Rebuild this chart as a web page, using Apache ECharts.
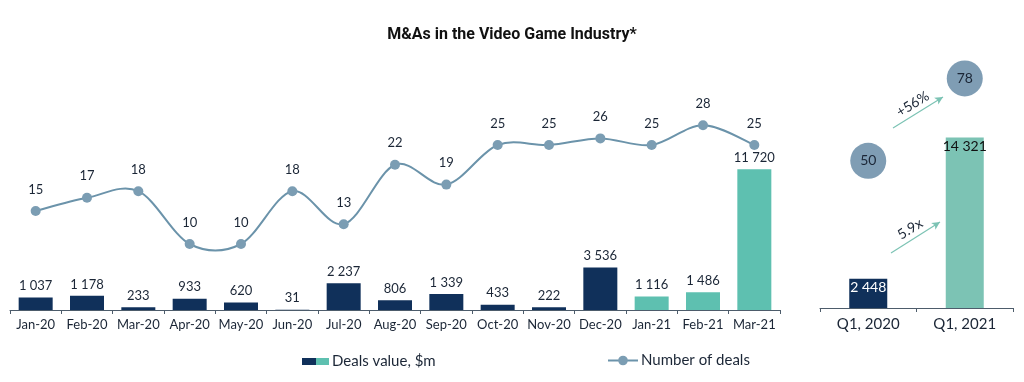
<!DOCTYPE html>
<html><head><meta charset="utf-8">
<script src="https://cdn.jsdelivr.net/npm/echarts@6/dist/echarts.min.js"></script>
<style>html,body{margin:0;padding:0;background:#fff}#c{width:1024px;height:382px}</style>
</head><body><div id="c"></div>
<script>
const months = ['Jan-20','Feb-20','Mar-20','Apr-20','May-20','Jun-20','Jul-20','Aug-20','Sep-20','Oct-20','Nov-20','Dec-20','Jan-21','Feb-21','Mar-21'];
const dealsValue = [1037,1178,233,933,620,31,2237,806,1339,433,222,3536,1116,1486,11720];
const dealsCount = [15,17,18,10,10,18,13,22,19,25,25,26,25,28,25];
const quarters = ['Q1, 2020','Q1, 2021'];
const quarterValue = [2448,14321];
const quarterCount = [50,78];
const NAVY = '#10305a', TEAL = '#5ec0b0', TEAL2 = '#7cc3b4', LINEC = '#6b93aa', DOT = '#7b9db3', TXT = '#1b2636';
const fmt = v => String(v).replace(/\B(?=(\d{3})+(?!\d))/g, ' ');
const FONT = 'Lato';
const chart = echarts.init(document.getElementById('c'));
function axisStyle(size, margin){
  return {
    axisLine:{lineStyle:{color:'#4d5c6b',width:1}},
    axisTick:{show:true,alignWithLabel:false,length:4,lineStyle:{color:'#4d5c6b'}},
    axisLabel:{color:TXT,fontSize:size,fontFamily:FONT,margin:margin,interval:0}
  };
}
const T = 1/6;
function renderCurve(params, api){
  const i = params.dataIndex, n = dealsCount.length;
  if (i >= n-1) return null;
  const P = k => { const j = Math.max(0,Math.min(n-1,k)); return api.coord([j, dealsCount[j]]); };
  const p0 = P(i-1), p1 = P(i), p2 = P(i+1), p3 = P(i+2);
  return {type:'bezierCurve',
    shape:{x1:p1[0],y1:p1[1],x2:p2[0],y2:p2[1],
      cpx1:p1[0]+(p2[0]-p0[0])*T, cpy1:p1[1]+(p2[1]-p0[1])*T,
      cpx2:p2[0]-(p3[0]-p1[0])*T, cpy2:p2[1]-(p3[1]-p1[1])*T},
    style:{stroke:LINEC,lineWidth:2,fill:null}};
}
chart.setOption({
  animation:false,
  title:{text:'M&As in the Video Game Industry*',left:'center',top:22,textStyle:{fontFamily:'Roboto',fontWeight:'bold',fontSize:16,color:'#111'}},
  grid:[{left:10,width:770,top:46,bottom:72},{left:820,width:193,top:46,bottom:74}],
  xAxis:[
    Object.assign({type:'category',data:months,gridIndex:0},axisStyle(13,8)),
    Object.assign({type:'category',data:quarters,gridIndex:1},axisStyle(15,9))
  ],
  yAxis:[
    {type:'value',gridIndex:0,min:0,max:22000,show:false},
    {type:'value',gridIndex:0,min:0,max:40,show:false},
    {type:'value',gridIndex:1,min:0,max:22000,show:false},
    {type:'value',gridIndex:1,min:0,max:89,show:false}
  ],
  legend:[
    {left:297,top:349,itemWidth:27,itemHeight:7,itemGap:0,textStyle:{fontFamily:FONT,fontSize:15,color:TXT,padding:[0,0,0,-2]},
     data:[{name:'Deals value, $m',icon:'rect',itemStyle:{color:{type:'linear',x:0,y:0,x2:1,y2:0,colorStops:[{offset:0,color:NAVY},{offset:0.5,color:NAVY},{offset:0.5,color:TEAL},{offset:1,color:TEAL}]}}}]},
    {left:602,top:348,itemWidth:30,itemHeight:12,textStyle:{fontFamily:FONT,fontSize:15,color:TXT,padding:[0,0,0,-2]},
     data:[{name:'Number of deals',itemStyle:{color:DOT},lineStyle:{color:LINEC,width:2,opacity:1}}]}
  ],
  series:[
    {name:'Deals value, $m',type:'bar',xAxisIndex:0,yAxisIndex:0,barWidth:34,
     data:dealsValue.map((v,i)=>({value:v,itemStyle:{color:months[i].endsWith('21')?TEAL:NAVY}})),
     label:{show:true,position:'top',distance:5,color:TXT,fontSize:13,fontFamily:FONT,formatter:p=>fmt(p.value)}},
    {name:'curve',type:'custom',xAxisIndex:0,yAxisIndex:1,z:1,data:dealsCount.map((v,i)=>[i,v]),
     renderItem:renderCurve,silent:true},
    {name:'Number of deals',type:'line',xAxisIndex:0,yAxisIndex:1,z:3,data:dealsCount,
     symbol:'circle',symbolSize:10,lineStyle:{color:LINEC,width:2,opacity:0},itemStyle:{color:DOT},
     label:{show:true,position:'top',distance:10,color:TXT,fontSize:13,fontFamily:FONT}},
    {name:'Q value',type:'bar',xAxisIndex:1,yAxisIndex:2,barWidth:38,
     data:quarterValue.map((v,i)=>({value:v,itemStyle:{color:i===0?NAVY:TEAL2},label:{color:i===0?'#fff':'#111'}})),
     label:{show:true,position:'insideTop',distance:2,fontSize:14,fontFamily:FONT,formatter:p=>fmt(p.value)}},
    {name:'Q count',type:'scatter',xAxisIndex:1,yAxisIndex:3,data:quarterCount,symbolSize:36,
     itemStyle:{color:'#7f9db4',opacity:1},
     label:{show:true,position:'inside',color:TXT,fontSize:14,fontFamily:FONT},
     markLine:{silent:true,symbol:['none','arrow'],symbolSize:[6,8],
       lineStyle:{color:TEAL2,width:1.2,type:'solid'},
       label:{show:true,position:'middle',color:TXT,fontSize:14,fontFamily:FONT,distance:3},
       data:[
         [{x:893,y:128,name:'+56%'},{x:943,y:97}],
         [{x:891,y:253,name:'5.9x'},{x:940,y:222}]
       ]}
    }
  ]
});
</script></body></html>
